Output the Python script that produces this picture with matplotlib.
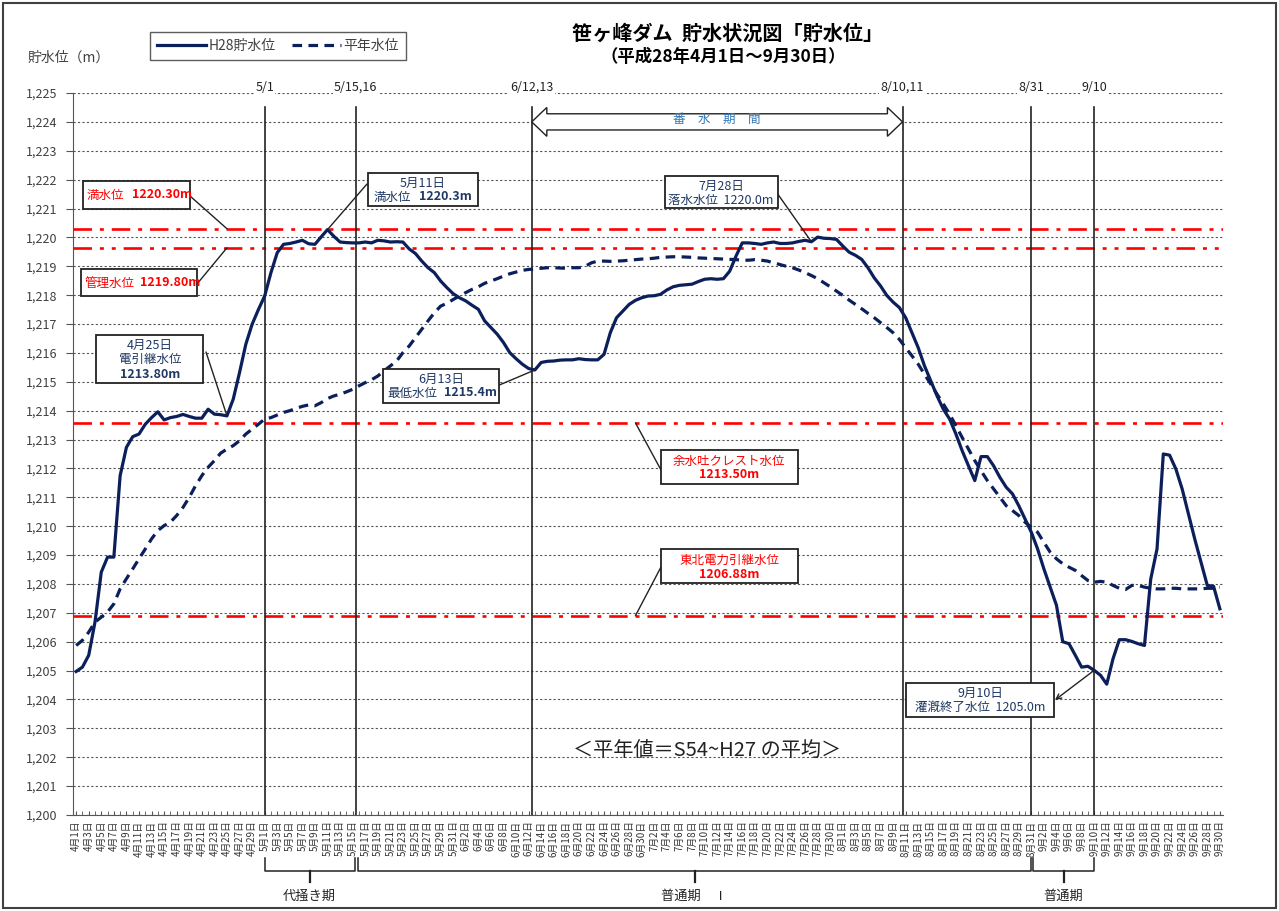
import numpy as np
import pandas as pd
import matplotlib
matplotlib.use('Agg')
import matplotlib.pyplot as plt
from matplotlib.patches import Rectangle, Polygon
from matplotlib.ticker import FuncFormatter, MultipleLocator

plt.rcParams['font.family'] = ['Noto Sans CJK JP', 'DejaVu Sans']

# 4/1 .. 9/30 (2016)
dates = pd.date_range('2016-04-01', '2016-09-30')
date_labels = [f'{d.month}月{d.day}日' for d in dates]

# H28 貯水位 (m)
h28 = [1204.97, 1205.12, 1205.53, 1206.68, 1208.41, 1208.93, 1208.93, 1211.75, 1212.73, 1213.10,
       1213.19, 1213.53, 1213.76, 1213.96, 1213.68, 1213.76, 1213.80, 1213.87, 1213.80, 1213.74,
       1213.74, 1214.05, 1213.88, 1213.86, 1213.82, 1214.40, 1215.32, 1216.30, 1216.99, 1217.50,
       1217.97, 1218.78, 1219.47, 1219.76, 1219.79, 1219.84, 1219.90, 1219.78, 1219.76, 1220.02,
       1220.27, 1220.04, 1219.84, 1219.82, 1219.81, 1219.81, 1219.84, 1219.81, 1219.90, 1219.88,
       1219.84, 1219.85, 1219.84, 1219.60, 1219.44, 1219.18, 1218.95, 1218.78, 1218.49, 1218.26,
       1218.05, 1217.91, 1217.80, 1217.65, 1217.51, 1217.11, 1216.88, 1216.65, 1216.36, 1216.01,
       1215.80, 1215.61, 1215.46, 1215.41, 1215.67, 1215.71, 1215.72, 1215.75, 1215.76, 1215.76,
       1215.80, 1215.77, 1215.76, 1215.76, 1215.95, 1216.70, 1217.22, 1217.45, 1217.68, 1217.82,
       1217.91, 1217.97, 1217.98, 1218.03, 1218.18, 1218.29, 1218.34, 1218.36, 1218.38, 1218.47,
       1218.55, 1218.57, 1218.55, 1218.57, 1218.83, 1219.35, 1219.81, 1219.81, 1219.79, 1219.76,
       1219.81, 1219.84, 1219.79, 1219.79, 1219.81, 1219.86, 1219.90, 1219.85, 1220.01, 1219.97,
       1219.96, 1219.93, 1219.70, 1219.49, 1219.38, 1219.24, 1218.95, 1218.60, 1218.32, 1217.99,
       1217.76, 1217.57, 1217.22, 1216.70, 1216.18, 1215.55, 1215.03, 1214.51, 1214.05, 1213.71,
       1213.19, 1212.61, 1212.09, 1211.58, 1212.41, 1212.41, 1212.09, 1211.69, 1211.35, 1211.12,
       1210.71, 1210.25, 1209.79, 1209.21, 1208.52, 1207.89, 1207.26, 1206.00, 1205.93, 1205.53,
       1205.12, 1205.15, 1205.01, 1204.84, 1204.53, 1205.41, 1206.07, 1206.07, 1206.01, 1205.93,
       1205.87, 1208.17, 1209.21, 1212.50, 1212.46, 1211.98, 1211.29, 1210.42, 1209.56, 1208.75,
       1207.95, 1207.92, 1207.14]

# 平年水位 (m)
normal = [1205.87, 1206.05, 1206.33, 1206.68, 1206.85, 1207.03, 1207.31, 1207.83, 1208.18, 1208.52,
          1208.87, 1209.21, 1209.56, 1209.85, 1210.02, 1210.14, 1210.37, 1210.65, 1211.00, 1211.40,
          1211.75, 1212.04, 1212.27, 1212.53, 1212.67, 1212.79, 1212.96, 1213.19, 1213.36, 1213.53,
          1213.71, 1213.76, 1213.85, 1213.94, 1214.00, 1214.08, 1214.15, 1214.20, 1214.17, 1214.28,
          1214.42, 1214.51, 1214.57, 1214.65, 1214.74, 1214.86, 1214.97, 1215.07, 1215.20, 1215.38,
          1215.55, 1215.72, 1216.01, 1216.24, 1216.53, 1216.82, 1217.11, 1217.39, 1217.62, 1217.72,
          1217.85, 1217.97, 1218.09, 1218.20, 1218.29, 1218.41, 1218.49, 1218.57, 1218.66, 1218.74,
          1218.80, 1218.86, 1218.89, 1218.91, 1218.93, 1218.95, 1218.95, 1218.94, 1218.93, 1218.95,
          1218.95, 1219.00, 1219.12, 1219.18, 1219.18, 1219.17, 1219.18, 1219.19, 1219.21, 1219.23,
          1219.25, 1219.26, 1219.28, 1219.31, 1219.32, 1219.33, 1219.33, 1219.32, 1219.31, 1219.29,
          1219.28, 1219.27, 1219.26, 1219.25, 1219.24, 1219.23, 1219.21, 1219.21, 1219.23, 1219.21,
          1219.18, 1219.12, 1219.06, 1219.00, 1218.95, 1218.87, 1218.78, 1218.68, 1218.57, 1218.43,
          1218.29, 1218.14, 1217.99, 1217.83, 1217.68, 1217.53, 1217.37, 1217.22, 1217.05, 1216.88,
          1216.70, 1216.47, 1216.18, 1215.90, 1215.61, 1215.26, 1214.92, 1214.57, 1214.23, 1213.88,
          1213.48, 1213.07, 1212.67, 1212.27, 1211.92, 1211.58, 1211.29, 1211.00, 1210.71, 1210.54,
          1210.37, 1210.14, 1209.96, 1209.79, 1209.44, 1209.10, 1208.87, 1208.70, 1208.58, 1208.47,
          1208.29, 1208.12, 1208.06, 1208.09, 1208.06, 1207.95, 1207.85, 1207.81, 1207.95, 1207.95,
          1207.89, 1207.85, 1207.83, 1207.83, 1207.85, 1207.85, 1207.83, 1207.83, 1207.83, 1207.83,
          1207.85, 1207.85, 1207.89]

# 基準水位 (赤線)
ref_levels = [1220.30, 1219.64, 1213.58, 1206.90]
ref_styles = [(0, (7, 3, 1.5, 3)), (0, (7, 3, 1.5, 3, 1.5, 3)), (0, (7, 3, 1.5, 3)), (0, (7, 3, 1.5, 3))]

# 期間の区切り (日インデックス) と上部ラベル
period_pos = [30, 44.5, 72.5, 131.5, 152, 162]
period_labels = ['5/1', '5/15,16', '6/12,13', '8/10,11', '8/31', '9/10']

NAVY = '#0b1f5b'
RED = '#ff0000'
W, H = 1279, 911

fig = plt.figure(figsize=(W / 100, H / 100), dpi=100)
ax = fig.add_axes([73 / W, 1 - 815 / H, 1150 / W, 722 / H])

days = np.arange(len(dates))
l1, = ax.plot(days, h28, color=NAVY, lw=2.3, label='H28貯水位', zorder=5, solid_joinstyle='round')
l2, = ax.plot(days, normal, color=NAVY, lw=2.3, ls=(0, (3, 2)), label='平年水位', zorder=4)

for lev, st in zip(ref_levels, ref_styles):
    ax.axhline(lev, color=RED, lw=1.9, ls=st, zorder=3)

ax.set_xlim(-0.5, len(dates) - 0.5)
ax.set_ylim(1200, 1225)
ax.yaxis.set_major_locator(MultipleLocator(1))
ax.yaxis.set_major_formatter(FuncFormatter(lambda v, p: f'{v:,.0f}'))
ax.grid(axis='y', color='#555555', lw=0.8, ls=(0, (2, 2)))
ax.set_xticks(days[::2])
ax.set_xticklabels(date_labels[::2], rotation=90, fontsize=7, color='#333333')
ax.set_xticks(days, minor=True)
ax.tick_params(axis='x', which='both', direction='in', length=3, color='#555555', pad=4)
ax.tick_params(axis='y', length=5, color='#555555', labelsize=9, labelcolor='#404040', pad=6)
for s in ['top', 'right']:
    ax.spines[s].set_visible(False)
for s in ['left', 'bottom']:
    ax.spines[s].set_color('#555555')

# 期間の縦線と上部ラベル
for p, lab in zip(period_pos, period_labels):
    ax.plot([p, p], [1200, 1224.5], color='#222222', lw=1.2, zorder=3)
    ax.text(p, 1225.2, lab, ha='center', va='center', fontsize=9, color='#222222',
            bbox=dict(fc='white', ec='none', pad=1), clip_on=False)

# 番水期間 の両矢印
x0, x1 = period_pos[2], period_pos[3]
yc, hl, bh, hh = 1224.0, 2.4, 0.28, 0.5
arrow_pts = [(x0, yc), (x0 + hl, yc + hh), (x0 + hl, yc + bh), (x1 - hl, yc + bh), (x1 - hl, yc + hh),
             (x1, yc), (x1 - hl, yc - hh), (x1 - hl, yc - bh), (x0 + hl, yc - bh), (x0 + hl, yc - hh)]
ax.add_patch(Polygon(arrow_pts, closed=True, fc='white', ec='#222222', lw=1.0, zorder=6))
ax.text((x0 + x1) / 2, yc + 0.08, '番　水　期　間', ha='center', va='center', fontsize=9,
        color='#2e75b6', zorder=7)

# 下部の期間ブラケット
tr = ax.get_xaxis_transform()
def ay(ypx):
    return (815 - ypx) / 722

def bracket(xa, xb, label):
    mid = (xa + xb) / 2
    ax.plot([xa, xa, xb, xb], [ay(858), ay(871), ay(871), ay(858)], transform=tr,
            color='#222222', lw=1.1, clip_on=False)
    ax.plot([mid, mid], [ay(871), ay(882)], transform=tr, color='#222222', lw=1.6, clip_on=False)
    ax.text(mid, ay(896), label, transform=tr, ha='center', va='center',
            fontsize=9.5, color='#222222')

bracket(30, 44.3, '代掻き期')
bracket(44.8, 152, '普通期　Ⅰ')
bracket(152.3, 162, '普通期')

# 注記ボックス
def box(xa, ya, xb, yb):
    fig.add_artist(Rectangle((xa / W, 1 - yb / H), (xb - xa) / W, (yb - ya) / H,
                             transform=fig.transFigure, fc='white', ec='#222222', lw=1.3, zorder=8))

def ftxt(x, y, s, color, ha='center', bold=False, size=9):
    fig.text(x / W, 1 - y / H, s, ha=ha, va='center', fontsize=size, color=color,
             fontweight='bold' if bold else 'normal', zorder=9)

def leader(px, py, dx, dy, style='-'):
    ax.annotate('', xy=(dx, dy), xycoords='data', xytext=(px, H - py), textcoords='figure pixels',
                arrowprops=dict(arrowstyle=style, color='#222222', lw=1.0, shrinkA=0, shrinkB=0),
                zorder=8, annotation_clip=False)

BT = '#1f3864'

box(83, 181, 190, 209)
ftxt(87, 195, '満水位', RED, ha='left')
ftxt(132, 195, '1220.30m', RED, ha='left', bold=True)
leader(190, 196, 24, ref_levels[0])

box(81, 269, 197, 296)
ftxt(85, 283, '管理水位', RED, ha='left')
ftxt(140, 283, '1219.80m', RED, ha='left', bold=True)
leader(197, 284, 24, ref_levels[1])

box(96, 335, 203, 383)
ftxt(150, 345, '4月25日', BT)
ftxt(150, 359, '電引継水位', BT)
ftxt(150, 374, '1213.80m', BT, bold=True)
leader(206, 352, 24, h28[24])

box(368, 173, 478, 206)
ftxt(423, 183, '5月11日', BT)
ftxt(374, 197, '満水位', BT, ha='left')
ftxt(419, 197, '1220.3m', BT, ha='left', bold=True)
leader(367, 184, 40, h28[40])

box(383, 369, 499, 403)
ftxt(441, 379, '6月13日', BT)
ftxt(387, 393, '最低水位', BT, ha='left')
ftxt(444, 393, '1215.4m', BT, ha='left', bold=True)
leader(497, 386, 73, h28[73])

box(665, 176, 778, 208)
ftxt(721, 186, '7月28日', BT)
ftxt(721, 200, '落水水位  1220.0m', BT)
leader(777, 193, 117, h28[117])

box(661, 450, 798, 484)
ftxt(729, 461, '余水吐クレスト水位', RED)
ftxt(729, 475, '1213.50m', RED, bold=True)
leader(661, 470, 89, ref_levels[2])

box(661, 549, 798, 583)
ftxt(729, 560, '東北電力引継水位', RED)
ftxt(729, 574, '1206.88m', RED, bold=True)
leader(661, 567, 89, ref_levels[3])

box(906, 683, 1054, 717)
ftxt(980, 693, '9月10日', BT)
ftxt(980, 707, '灌漑終了水位  1205.0m', BT)
ax.annotate('', xy=(1055, H - 700), xycoords='figure pixels', xytext=(162, h28[162]),
            textcoords='data', arrowprops=dict(arrowstyle='->', color='#222222', lw=1.0,
                                               shrinkA=0, shrinkB=0, mutation_scale=9),
            zorder=8, annotation_clip=False)

# タイトル・凡例など
fig.text(728 / W, 1 - 33 / H, '笹ヶ峰ダム  貯水状況図「貯水位」', ha='center', va='center',
         fontsize=14.5, fontweight='bold')
fig.text(723 / W, 1 - 57 / H, '（平成28年4月1日～9月30日）', ha='center', va='center',
         fontsize=12.5, fontweight='bold')
fig.text(28 / W, 1 - 58 / H, '貯水位（m）', ha='left', va='center', fontsize=10, color='#404040')
fig.text(707 / W, 1 - 750 / H, '＜平年値＝S54~H27 の平均＞', ha='center', va='center', fontsize=14.5,
         color='#222222')

leg = fig.legend([l1, l2], ['H28貯水位', '平年水位'], loc='center', bbox_to_anchor=(278 / W, 1 - 46 / H),
                 ncol=2, fancybox=False, edgecolor='#333333', fontsize=10, handlelength=3.5,
                 columnspacing=1.2, borderpad=0.5, handletextpad=0.2)
for t in leg.get_texts():
    t.set_color('#404040')

fig.add_artist(Rectangle((3 / W, 3 / H), 1 - 6 / W, 1 - 6 / H, transform=fig.transFigure,
                         fill=False, ec='#404040', lw=1.5))

fig.savefig('out.png', dpi=100)
